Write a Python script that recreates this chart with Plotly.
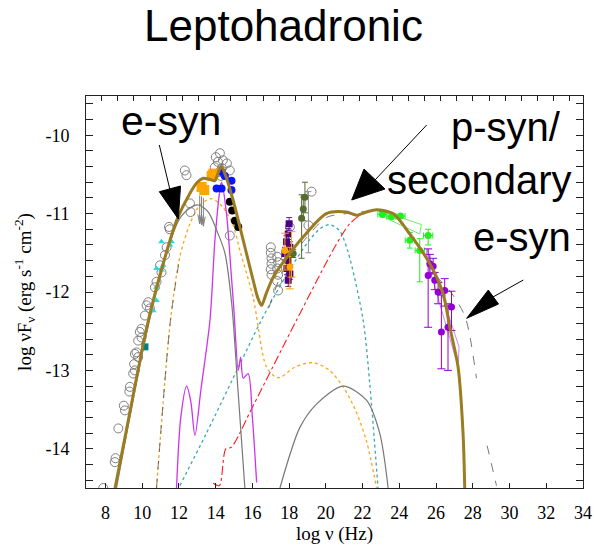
import plotly.graph_objects as go

# ---------------------------------------------------------------
# Model components: log(nu/Hz) vs log(nu F_nu / erg s^-1 cm^-2)
# ---------------------------------------------------------------
total_x = [8.52, 9.3, 10.06, 10.47, 11.14, 11.87, 12.6, 13.0, 13.32, 13.65, 13.95, 14.15,
           14.32, 14.55, 14.95, 15.5, 16.04, 16.3, 16.5, 16.75, 17.13, 17.68, 18.76, 20.03,
           21.12, 21.67, 22.2, 22.76, 23.66, 24.57, 25.66, 26.38, 26.75, 27.2, 27.47, 27.56]
total_y = [-14.5, -13.57, -12.66, -12.23, -11.64, -11.09, -10.74, -10.6, -10.55, -10.56, -10.58, -10.47,
           -10.40, -10.52, -10.83, -11.34, -11.85, -12.08, -12.17, -12.02, -11.81, -11.62, -11.3, -11.0,
           -10.98, -11.02, -10.98, -10.95, -11.0, -11.26, -11.64, -12.02, -12.45, -12.96, -13.81, -14.5]

esyn_x = [8.6, 10.06, 10.8, 11.5, 12.0, 12.6, 13.05, 13.6, 14.05, 14.5, 14.87, 15.2, 15.59]
esyn_y = [-14.5, -12.72, -11.97, -11.38, -11.08, -10.93, -10.89, -10.98, -11.21, -11.5, -12.14, -13.2, -14.5]

ic_x = [17.5, 18.58, 19.49, 20.94, 22.21, 22.94, 23.39]
ic_y = [-14.5, -13.73, -13.43, -13.2, -13.38, -13.81, -14.5]

pair_x = [10.78, 11.54, 12.05, 12.6, 13.14, 13.78, 14.4, 14.95, 15.32, 16.04, 16.77, 17.31,
          17.6, 18.3, 19.3, 20.2, 20.94, 21.6, 22.21, 22.76]
pair_y = [-14.5, -12.36, -11.55, -11.13, -10.89, -10.81, -10.92, -11.15, -11.47, -12.07, -12.96, -13.09,
          -13.08, -12.96, -12.9, -13.0, -13.21, -13.5, -13.9, -14.5]

disk_x = [11.87, 12.1, 12.42, 12.65, 12.87, 13.2, 13.69, 13.96, 14.23, 14.32, 14.59, 14.86,
          15.0, 15.23, 15.36, 15.5, 15.77, 16.0, 16.23]
disk_y = [-14.5, -13.6, -13.2, -13.4, -13.83, -13.24, -12.36, -11.34, -10.7, -10.6, -11.0, -11.81,
          -12.25, -13.0, -12.83, -13.1, -13.04, -13.6, -14.43]

bh_x = [12.05, 13.5, 15.32, 16.4, 17.2, 18.2, 19.1, 19.7, 20.2, 20.75, 21.21, 22.03, 22.39, 22.84]
bh_y = [-14.47, -13.8, -12.92, -12.4, -12.05, -11.65, -11.34, -11.19, -11.14, -11.22, -11.49, -12.36, -13.17, -14.5]

psyn_x = [13.86, 14.2, 14.55, 14.85, 16.04, 18.4, 20.5, 21.3, 22.0, 22.57, 23.2, 23.66]
psyn_y = [-14.44, -14.47, -14.0, -13.98, -13.45, -12.36, -11.42, -11.13, -11.0, -10.96, -10.97, -11.0]

sec_x = [10.78, 11.54, 12.05, None,
         16.9, 17.68, 18.76, 20.03, 21.12, 22.76, 23.66, 24.57, 25.66, 26.02, 26.92, 27.56, 27.83, 28.2, None,
         28.78, 29.29]
sec_y = [-14.5, -12.36, -11.55, None,
         -12.2, -11.72, -11.36, -11.05, -11.0, -10.97, -11.02, -11.28, -11.62, -11.79, -12.04, -12.3, -12.55, -13.1, None,
         -13.96, -14.47]

# ---------------------------------------------------------------
# Observations
# ---------------------------------------------------------------
arch_x = [7.88, 8.51, 8.55, 8.7, 9.0, 9.06, 9.33, 9.3, 9.51, 9.6, 9.56, 9.6, 9.78, 9.69, 9.78, 9.87,
          9.96, 9.96, 10.15, 10.24, 10.33, 10.42, 10.69, 10.78, 11.05, 10.97, 11.24, 11.33, 11.46,
          11.5, 12.32, 12.41, 12.6, 12.63,
          14.23, 14.01, 14.39, 14.12, 14.61, 13.95, 14.34, 14.77, 14.2, 14.28, 14.77,
          17.0, 17.0, 17.04, 17.04, 17.0, 17.04, 17.35, 17.4, 17.35, 17.4, 17.35, 17.4,
          18.04, 19.22, 19.05]
arch_y = [-14.5, -14.17, -14.12, -13.74, -13.45, -13.51, -13.21, -13.27, -13.04, -13.0, -12.92, -12.79,
          -12.83, -12.77, -12.62, -12.51, -12.58, -12.47, -12.3, -12.17, -12.13, -12.21, -11.94, -11.87,
          -11.75, -11.66, -11.53, -11.43, -11.17, -11.2, -10.45, -10.51, -10.87, -10.98,
          -10.23, -10.28, -10.32, -10.34, -10.36, -10.41, -10.42, -10.45, -10.47, -10.52, -11.28,
          -11.43, -11.5, -11.57, -11.64, -11.71, -11.78, -11.55, -11.62, -11.7, -11.78, -11.86, -11.98,
          -11.17, -10.72, -11.15]

radio_x = [11.6, 11.51, 11.14, 11.05, 10.78, 10.78, 10.6, 11.05, 10.78]
radio_y = [-11.36, -11.4, -11.66, -11.72, -11.94, -12.11, -12.24, -11.36, -11.7]

mm_x = [10.15]
mm_y = [-12.7]

ir_x = [13.23, 13.38, 13.78, 13.87]
ir_y = [-10.66, -10.7, -10.52, -10.49]

opt_x = [14.32, 14.5, 14.05, 14.32, 14.86, 14.86]
opt_y = [-10.47, -10.52, -10.68, -10.68, -10.58, -10.7]

uv_x = [14.77, 14.9, 15.05, 15.23]
uv_y = [-10.85, -10.96, -11.09, -11.17]

ul_x = [13.13, 13.23, 13.33]
ul_y = [-10.77, -10.78, -10.8]

xs_x = [18.0, 17.95, 17.86, 18.04, 17.77, 17.95, 17.88, 18.04, 17.95]
xs_y = [-11.13, -11.26, -11.36, -11.43, -11.51, -11.6, -11.7, -11.77, -11.85]
xs_err = [0.08, 0.07, 0.08, 0.07, 0.08, 0.07, 0.08, 0.07, 0.08]

xo_x = [17.77, 18.13, 18.04]
xo_y = [-11.47, -11.51, -11.68]
xo_up = [0.22, 0.28, 0.25]
xo_dn = [0.25, 0.3, 0.28]

hx_x = [18.86, 18.77, 18.68, 18.22]
hx_y = [-10.79, -10.94, -11.06, -11.51]
hx_up = [0.19, 0.15, 0.3, 0.05]
hx_dn = [0.2, 0.15, 0.51, 0.05]

lat_x = [23.08, 23.57, 24.06, 24.57, 25.11, 25.57]
lat_y = [-11.01, -11.04, -11.03, -11.34, -11.47, -11.28]
lat_xerr = [0.25, 0.25, 0.25, 0.25, 0.25, 0.25]
lat_up = [0.02, 0.02, 0.02, 0.1, 0.15, 0.08]
lat_dn = [0.02, 0.02, 0.02, 0.1, 0.4, 0.12]

lat_bow_x = [22.95, 25.2, 25.11, 23.12, 22.95]
lat_bow_y = [-10.96, -11.14, -11.26, -11.04, -10.96]

vhe_x = [25.66, 25.84, 25.57, 25.93, 26.11, 26.47, 26.29, 26.65, 26.84]
vhe_y = [-11.64, -11.67, -11.79, -11.85, -12.0, -11.98, -12.51, -12.45, -12.19]
vhe_up = [0.12, 0.1, 0.34, 0.1, 0.12, 0.15, 0.47, 0.3, 0.2]
vhe_dn = [0.12, 0.1, 0.66, 0.12, 0.15, 0.2, 0.47, 0.55, 0.3]

vhe_bow_x = [25.5, 27.25, 27.2, 25.45, 25.5]
vhe_bow_y = [-11.45, -12.7, -12.95, -11.55, -11.45]

x_ticks = [8, 10, 12, 14, 16, 18, 20, 22, 24, 26, 28, 30, 32, 34]
x_ticktext = [str(v) for v in x_ticks]
y_ticks = [-14, -13, -12, -11, -10]
y_ticktext = ["-14", "-13", "-12", "-11", "-10"]

# ---------------------------------------------------------------
# Figure
# ---------------------------------------------------------------
W, H = 594, 549
L, R, T, B = 86, 583, 96, 488
XR = [6.94, 34.0]
YR = [-14.5, -9.5]

SERIF = "Liberation Serif, Times New Roman, serif"
SANS = "Liberation Sans, Arial, sans-serif"

fig = go.Figure()


def curve(x, y, color, width=1.0, dash="solid"):
    fig.add_trace(go.Scatter(x=x, y=y, mode="lines", connectgaps=False,
                             line=dict(color=color, width=width, dash=dash, shape="spline", smoothing=0.8),
                             hoverinfo="skip"))


def points(x, y, symbol, color, size, line_color=None, line_width=0, **kw):
    fig.add_trace(go.Scatter(x=x, y=y, mode="markers",
                             marker=dict(symbol=symbol, color=color, size=size,
                                         line=dict(color=line_color or color, width=line_width)),
                             **kw))


# bow-ties
fig.add_trace(go.Scatter(x=lat_bow_x, y=lat_bow_y, mode="lines", line=dict(color="#66ee66", width=1)))
fig.add_trace(go.Scatter(x=vhe_bow_x, y=vhe_bow_y, mode="lines", line=dict(color="#cc88ee", width=1)))

# model components
curve(bh_x, bh_y, "#3aa9b0", 1.3, "dot")
curve(psyn_x, psyn_y, "#ff1a1a", 1.1, "dashdot")
curve(pair_x, pair_y, "#ffa31a", 1.3, "dot")
curve(sec_x, sec_y, "#555555", 0.8, "dash")
curve(disk_x, disk_y, "#cc33ee", 1.3)
curve(ic_x, ic_y, "#777777", 1.2)
curve(esyn_x, esyn_y, "#777777", 1.2)

# archival data
points(arch_x, arch_y, "circle-open", "#808080", 9, line_width=1)
fig.add_trace(go.Scatter(x=[19.05], y=[-11.15], mode="markers", marker=dict(size=1, color="#808080"),
                         error_y=dict(type="data", symmetric=False, array=[0.43], arrayminus=[0.35],
                                      color="#909090", thickness=1, width=3)))
points(radio_x, radio_y, "triangle-up", "#22dddd", 6)
points(mm_x, mm_y, "square", "#008080", 7)

# infrared upper limits
ul_lx, ul_ly = [], []
for xv, yv in zip(ul_x, ul_y):
    ul_lx += [xv, xv, None, xv - 0.1, xv, xv + 0.1, None]
    ul_ly += [yv, yv - 0.36, None, yv - 0.24, yv - 0.36, yv - 0.24, None]
fig.add_trace(go.Scatter(x=ul_lx, y=ul_ly, mode="lines", line=dict(color="#808080", width=1)))

points(ir_x, ir_y, "square", "#ffa500", 10)
points(opt_x, opt_y, "circle", "#0a14ff", 8)
points(uv_x, uv_y, "circle", "#000000", 8)

# X-ray data
fig.add_trace(go.Scatter(x=xs_x, y=xs_y, mode="markers",
                         marker=dict(symbol="square", color="#4b0082", size=7),
                         error_y=dict(type="data", array=xs_err, color="#6a2a9a", thickness=1, width=3)))
fig.add_trace(go.Scatter(x=xo_x, y=xo_y, mode="markers",
                         marker=dict(symbol="circle", color="#ffa500", size=7),
                         error_y=dict(type="data", symmetric=False, array=xo_up, arrayminus=xo_dn,
                                      color="#ffa500", thickness=1, width=4)))
fig.add_trace(go.Scatter(x=hx_x, y=hx_y, mode="markers",
                         marker=dict(symbol="circle", color="#556b2f", size=7),
                         error_y=dict(type="data", symmetric=False, array=hx_up, arrayminus=hx_dn,
                                      color="#556b2f", thickness=1, width=3)))

# gamma-ray data
fig.add_trace(go.Scatter(x=lat_x, y=lat_y, mode="markers",
                         marker=dict(symbol="circle", color="#22ee22", size=7),
                         error_x=dict(type="data", array=lat_xerr, color="#22ee22", thickness=1, width=3),
                         error_y=dict(type="data", symmetric=False, array=lat_up, arrayminus=lat_dn,
                                      color="#22ee22", thickness=1, width=3)))
fig.add_trace(go.Scatter(x=vhe_x, y=vhe_y, mode="markers",
                         marker=dict(symbol="circle", color="#9400d3", size=7),
                         error_y=dict(type="data", symmetric=False, array=vhe_up, arrayminus=vhe_dn,
                                      color="#9400d3", thickness=1, width=4)))

# total emission on top
curve(total_x, total_y, "#9c7c22", 3.0)


def paper(px, py):
    return (px - L) / (R - L), (B - py) / (B - T)


def arrow(start, base, tip, c1, c2):
    x0, y0 = paper(*start)
    x1, y1 = paper(*base)
    fig.add_shape(type="line", xref="paper", yref="paper", x0=x0, y0=y0, x1=x1, y1=y1,
                  line=dict(color="black", width=1))
    pts = [paper(*tip), paper(*c1), paper(*c2)]
    path = "M {} {} L {} {} L {} {} Z".format(pts[0][0], pts[0][1], pts[1][0], pts[1][1],
                                             pts[2][0], pts[2][1])
    fig.add_shape(type="path", xref="paper", yref="paper", path=path,
                  fillcolor="black", line=dict(color="black", width=1))


arrow((159.3, 145), (170, 190), (178.3, 219), (159.3, 191.7), (180.5, 186))
arrow((426.7, 125), (375, 180), (351.7, 200), (364, 169), (385, 189))
arrow((523.3, 280), (493, 297), (466.7, 318.3), (488.3, 290), (498.5, 304))


def label(text, px, py, size, font=SANS, anchor="left"):
    x, y = paper(px, py)
    fig.add_annotation(text=text, x=x, y=y, xref="paper", yref="paper", showarrow=False,
                       xanchor=anchor, yanchor="middle",
                       font=dict(family=font, size=size, color="black"))


label("Leptohadronic", 283.5, 25, 44, anchor="center")
label("e-syn", 119, 121, 41)
label("p-syn/", 449, 127, 40)
label("secondary", 385, 180, 40)
label("e-syn", 471, 237, 40)

axis_line = dict(showline=True, linecolor="#222222", linewidth=1, showgrid=False, zeroline=False)

fig.update_layout(
    width=W, height=H,
    margin=dict(l=L, r=W - R, t=T, b=H - B, pad=0),
    paper_bgcolor="white", plot_bgcolor="white",
    showlegend=False,
    xaxis=dict(range=XR, tickmode="array", tickvals=x_ticks, ticktext=x_ticktext,
               ticks="inside", ticklen=5, tickcolor="#222222", mirror=True,
               tickfont=dict(family=SERIF, size=18, color="black"), ticklabelstandoff=8,
               title=dict(text="log \u03bd (Hz)", font=dict(family=SERIF, size=19, color="black"),
                          standoff=3),
               automargin=False, **axis_line),
    xaxis2=dict(range=XR, overlaying="x", side="top", tickmode="linear", tick0=7.79, dtick=0.879,
                ticks="inside", ticklen=5, tickcolor="#222222", showticklabels=False,
                showline=False, showgrid=False, zeroline=False),
    yaxis=dict(range=YR, tickmode="array", tickvals=y_ticks, ticktext=y_ticktext,
               ticks="inside", ticklen=7, tickcolor="#222222", mirror="allticks",
               minor=dict(dtick=0.2, tick0=-14.4, ticks="inside", ticklen=4, tickcolor="#222222"),
               tickfont=dict(family=SERIF, size=18, color="black"), ticklabelstandoff=12,
               title=dict(text="log \u03bdF<sub>\u03bd</sub> (erg s<sup>-1</sup> cm<sup>-2</sup>)",
                          font=dict(family=SERIF, size=19, color="black"), standoff=8),
               automargin=False, **axis_line),
)

# invisible trace that activates the top axis
fig.add_trace(go.Scatter(x=[XR[0]], y=[YR[0]], xaxis="x2", mode="markers",
                         marker=dict(opacity=0), hoverinfo="skip"))

fig.write_html("out.html")
